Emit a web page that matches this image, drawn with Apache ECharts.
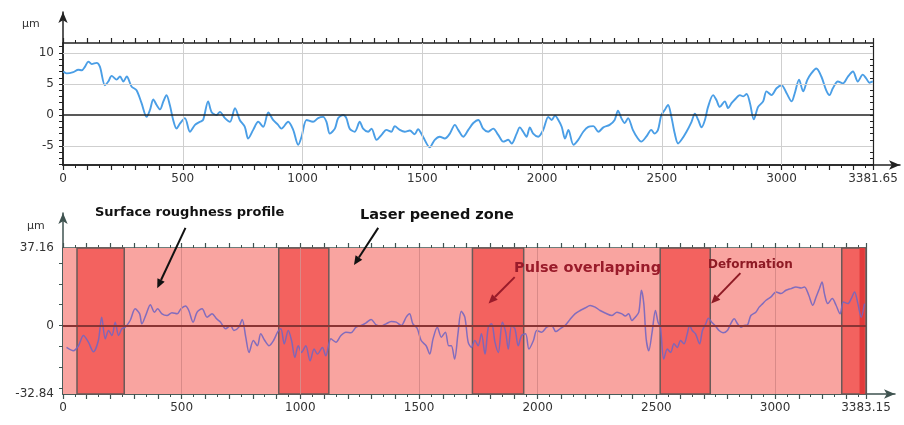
<!DOCTYPE html>
<html><head><meta charset="utf-8">
<script src="https://cdn.jsdelivr.net/npm/echarts@6/dist/echarts.min.js"></script>
<style>html,body{margin:0;padding:0;background:#fff}#c{width:904px;height:425px}</style>
</head><body><div id="c"></div>
<script>
// ---------- data ----------
const topX = [1,15,43,64,78,92,106,120,140,154,175,189,203,224,238,252,266,286,307,328,349,363,377,391,405,419,432,446,460,474,488,509,530,551,572,585,606,620,641,655,676,697,718,738,759,773,794,815,836,857,877,898,912,940,961,982,996,1017,1044,1065,1086,1100,1114,1135,1149,1170,1183,1197,1218,1239,1253,1274,1288,1309,1330,1350,1371,1385,1406,1427,1448,1468,1482,1503,1531,1552,1573,1594,1615,1636,1650,1671,1692,1713,1734,1754,1775,1796,1817,1838,1859,1873,1894,1907,1921,1935,1949,1963,1984,2005,2026,2040,2054,2068,2082,2096,2110,2131,2151,2172,2193,2214,2235,2256,2282,2303,2317,2331,2345,2359,2379,2400,2414,2435,2456,2470,2484,2498,2512,2526,2540,2554,2568,2582,2603,2624,2638,2652,2666,2680,2693,2714,2728,2742,2763,2777,2791,2805,2826,2840,2854,2868,2884,2902,2923,2937,2958,2979,3000,3021,3042,3055,3073,3090,3107,3124,3145,3166,3186,3200,3214,3235,3256,3277,3298,3318,3339,3353,3367,3381];
const topY = [7.0,6.7,6.9,7.3,7.2,7.8,8.6,8.2,8.4,7.8,4.8,5.4,6.3,5.7,6.2,5.4,6.2,4.6,4.0,1.9,-0.3,0.8,2.5,1.6,0.9,2.2,3.2,1.6,-0.8,-2.2,-1.4,-0.5,-2.7,-1.6,-1.1,-0.8,2.2,0.5,0,0.5,-0.5,-1.1,1.1,-0.8,-1.9,-3.8,-2.4,-1.1,-1.9,0.4,-0.8,-1.6,-2.2,-1.1,-2.4,-4.8,-3.5,-0.8,-1.1,-0.5,-0.3,-1.1,-3.0,-2.2,-0.5,0,-0.5,-2.2,-2.7,-1.1,-2.2,-2.7,-2.2,-4.0,-3.2,-2.4,-2.7,-1.8,-2.4,-2.7,-2.5,-3.1,-2.3,-3.5,-5.2,-4.0,-3.5,-3.8,-3.0,-1.6,-2.4,-3.5,-2.4,-1.3,-0.8,-2.2,-2.7,-2.2,-3.2,-4.3,-4.0,-4.6,-3.0,-2.0,-2.7,-3.5,-2.0,-3.0,-3.5,-2.4,-0.3,-0.8,-0.1,-0.8,-1.9,-3.8,-2.4,-4.8,-4.0,-2.7,-1.9,-1.8,-2.7,-2.0,-1.6,-0.8,0.7,-0.5,-1.3,-0.5,-2.4,-3.8,-4.3,-3.5,-2.4,-3.0,-2.4,0,0.8,1.6,-0.3,-3.0,-4.6,-4.0,-2.7,-1.1,0.2,-0.8,-2.0,-0.8,1.3,3.2,2.4,1.3,2.2,1.1,1.9,2.5,3.2,3.0,3.4,1.9,-0.7,1.3,2.2,3.8,3.2,4.3,4.8,3.5,2.2,3.5,5.7,3.8,5.6,6.7,7.5,6.2,4.0,3.2,4.3,5.4,5.1,6.2,7.0,5.4,6.5,5.9,5.2,5.4];

const botX = [15,44,65,86,107,128,149,163,178,192,206,220,234,248,262,283,304,323,332,351,368,385,399,417,438,459,481,497,516,530,548,565,586,607,628,647,664,685,706,720,741,755,770,784,802,819,833,850,868,887,904,918,932,949,963,977,991,1005,1023,1041,1058,1072,1093,1107,1129,1150,1171,1192,1213,1235,1256,1277,1298,1319,1340,1361,1383,1404,1425,1446,1460,1474,1492,1509,1530,1545,1559,1577,1594,1611,1625,1636,1650,1664,1678,1693,1707,1721,1735,1749,1763,1778,1792,1806,1820,1834,1851,1865,1876,1890,1904,1918,1932,1949,1963,1982,1996,2017,2038,2059,2076,2094,2115,2136,2157,2179,2200,2221,2242,2263,2284,2313,2334,2355,2369,2383,2397,2411,2426,2437,2447,2457,2468,2482,2496,2507,2517,2531,2546,2560,2574,2588,2602,2616,2630,2640,2651,2665,2682,2694,2708,2719,2733,2747,2764,2781,2799,2813,2828,2842,2856,2870,2884,2898,2919,2933,2948,2962,2983,3004,3025,3046,3067,3088,3110,3124,3142,3159,3173,3187,3198,3208,3222,3241,3257,3274,3288,3307,3321,3335,3349,3363,3377];
const botY = [-10.5,-12.1,-9.7,-4.8,-8.0,-12.6,-7.2,4.0,-6.4,-2.4,-4.8,1.6,-4.8,-1.6,-0.8,2.4,8.0,5.6,0.8,5.6,10.0,6.4,8.0,5.6,4.8,6.1,5.6,8.0,9.3,7.2,1.6,6.4,8.0,4.0,5.6,3.2,1.6,-1.6,0,-2.4,-0.8,2.9,-5.6,-12.9,-7.2,-9.7,-4.0,-7.2,-9.7,-7.2,-3.2,-1.6,-8.8,-2.4,-7.2,-15.3,-9.7,-12.9,-9.7,-16.9,-11.3,-13.7,-10.5,-14.5,-6.4,-8.0,-4.8,-3.2,-3.5,-0.8,0,1.3,2.9,0.3,-0.3,0.8,1.9,1.6,0,4.0,5.6,0.8,-1.3,-7.2,-9.7,-13.7,-6.4,-0.8,-5.6,-3.2,-9.7,-9.7,-16.1,-4.0,6.8,4.0,-8.0,-10.5,-7.2,-9.7,-4.0,-13.7,-0.8,0.8,-8.0,-12.9,1.6,-3.2,-11.3,0,-1.6,-9.7,-4.8,-4.0,-11.3,-7.2,-2.4,-3.2,-0.8,0,-2.9,-1.6,0,2.9,5.6,7.2,8.4,9.6,8.8,7.2,6.0,4.8,6.4,5.6,4.5,5.6,2.4,4.0,6.4,16.9,10.5,-6.4,-12.1,-3.2,7.2,1.6,-0.8,-16.1,-11.3,-12.9,-8.8,-10.5,-7.2,-8.8,-4.0,0,-2.4,-4.0,-8.8,-2.4,0.8,3.5,1.6,0,-2.4,-3.5,-2.4,0.8,3.2,0.8,-0.8,0,0.3,4.8,6.4,8.8,10.5,12.1,13.7,16.1,15.3,16.9,17.7,18.5,18.0,18.5,14.5,9.7,13.7,17.7,20.9,15.3,10.5,12.9,9.7,5.6,11.3,10.5,12.9,16.1,10.5,4.0,10.5];

const topXMax = 3381.65, botXMax = 3383.15;
const topYMin = -8.06, topYMax = 11.6;
const botYMin = -32.84, botYMax = 37.16;
const topXLabels = [0,500,1000,1500,2000,2500,3000,3381.65];
const botXLabels = [0,500,1000,1500,2000,2500,3000,3383.15];
const topYLabels = [-5,0,5,10];
const topYTicks = [-8,-7,-6,-5,-4,-3,-2,-1,0,1,2,3,4,5,6,7,8,9,10,11];
const botYLabels = [-32.84,0,37.16];
const botYTicks = [-30,-20,-10,0,10,20,30];
const topHGrid = [-5,5,10];
const vGrid = [500,1000,1500,2000,2500,3000];
const botVGrid = [500,1000,1500,2000,3000];
const zoneStarts = [59,909,1725,2516,3281];
const zoneEnds = [258,1120,1941,2727,3383.15];
const stripeZone = [3356,3378];
const annotations = [
  {text:'Surface roughness profile', from:[516,46.8], to:[397,17.9], color:'#111', size:13, tx:95, ty:213},
  {text:'Laser peened zone', from:[1328,46.8], to:[1226,29], color:'#111', size:14.5, tx:360, ty:215},
  {text:'Pulse overlapping', from:[1903,23.2], to:[1793,10.6], color:'#9a1b2a', size:14.5, tx:514, ty:268},
  {text:'Deformation', from:[2854,25.1], to:[2731,10.6], color:'#8e1a24', size:12, tx:708, ty:265}
];

// ---------- chart ----------
const FONT = 'DejaVu Sans';
const chart = echarts.init(document.getElementById('c'), null, {renderer:'canvas'});
const plainFmt = v => String(v);

function xAxisMain(grid, max, color, labels) {
  return {gridIndex:grid, type:'value', position:'bottom', min:0, max:max, interval:100,
    axisLine:{show:true,onZero:false,lineStyle:{color:color,width:1.5}},
    axisTick:{show:true,length:5,lineStyle:{color:color,width:1.2}},
    minorTick:{show:true,splitNumber:2,length:3,lineStyle:{color:color}},
    axisLabel:{show:true,customValues:labels,formatter:plainFmt,color:'#333',fontSize:12,fontFamily:FONT,margin:8,showMaxLabel:true,showMinLabel:true},
    splitLine:{show:false}, minorSplitLine:{show:false}};
}
function xAxisTop(grid, max, color) {
  return {gridIndex:grid, type:'value', position:'top', min:0, max:max, interval:100,
    axisLine:{show:true,onZero:false,lineStyle:{color:color,width:1.5}},
    axisTick:{show:true,length:5,lineStyle:{color:color,width:1.2}},
    minorTick:{show:true,splitNumber:2,length:3,lineStyle:{color:color}},
    axisLabel:{show:false}, splitLine:{show:false}};
}
function yAxisMain(grid, min, max, color, labels, ticks) {
  return {gridIndex:grid, type:'value', position:'left', min:min, max:max,
    axisLine:{show:true,onZero:false,lineStyle:{color:color,width:1.5}},
    axisTick:{show:true,customValues:ticks,length:4,lineStyle:{color:color}},
    axisLabel:{show:true,customValues:labels,formatter:plainFmt,color:'#333',fontSize:12,fontFamily:FONT,margin:9},
    splitLine:{show:false}};
}
function yAxisRight(grid, min, max, color, ticks) {
  return {gridIndex:grid, type:'value', position:'right', min:min, max:max,
    axisLine:{show:true,onZero:false,lineStyle:{color:color,width:1.2}},
    axisTick:{show:true,inside:true,customValues:ticks,length:3,lineStyle:{color:color}},
    axisLabel:{show:false}, splitLine:{show:false}};
}
function arrowAxis(grid, isX, color) {
  const a = {gridIndex:grid, type:'value', min:0, max:1,
    axisLine:{show:true,onZero:false,symbol:['none','arrow'],symbolSize:[7,11],lineStyle:{color:color,width:1.5}},
    axisTick:{show:false}, axisLabel:{show:false}, splitLine:{show:false}};
  a.position = isX ? 'bottom' : 'left';
  return a;
}

const topColor = '#222';
const botColor = '#3f5350';

const option = {
  backgroundColor:'#fff',
  animation:false,
  grid:[
    {left:63, top:43, width:810, height:122, outerBoundsMode:'none'},
    {left:63, top:12, right:4, bottom:260, outerBoundsMode:'none'},
    {left:63, top:248, width:803, height:146, outerBoundsMode:'none'},
    {left:63, top:213, right:9, bottom:31, outerBoundsMode:'none'}
  ],
  xAxis:[
    xAxisMain(0, topXMax, topColor, topXLabels),
    xAxisTop(0, topXMax, topColor),
    arrowAxis(1, true, topColor),
    xAxisMain(2, botXMax, botColor, botXLabels),
    xAxisTop(2, botXMax, botColor),
    arrowAxis(3, true, botColor)
  ],
  yAxis:[
    yAxisMain(0, topYMin, topYMax, topColor, topYLabels, topYTicks),
    yAxisRight(0, topYMin, topYMax, topColor, topYTicks),
    arrowAxis(1, false, topColor),
    yAxisMain(2, botYMin, botYMax, botColor, botYLabels, botYTicks),
    yAxisRight(2, botYMin, botYMax, botColor, botYTicks),
    arrowAxis(3, false, botColor)
  ],
  series:[
    {type:'line', xAxisIndex:0, yAxisIndex:0, data:[], silent:true,
     markLine:{silent:true, symbol:'none', label:{show:false}, animation:false,
       data: topHGrid.map(v=>({yAxis:v, lineStyle:{color:'#cfcfcf',width:1,type:'solid'}}))
         .concat(vGrid.map(v=>({xAxis:v, lineStyle:{color:'#cfcfcf',width:1,type:'solid'}})))
         .concat([{yAxis:0, lineStyle:{color:'#222',width:1.5,type:'solid'}}])}},
    {type:'line', xAxisIndex:0, yAxisIndex:0, showSymbol:false, smooth:0.3,
     lineStyle:{color:'#4a9ee6',width:1.9}, itemStyle:{color:'#4a9ee6'},
     data: topX.map((x,i)=>[x, topY[i]])},
    {type:'line', xAxisIndex:3, yAxisIndex:3, data:[], silent:true,
     markArea:{silent:true, data:[
       [{xAxis:0, yAxis:botYMin, itemStyle:{color:'#f9a4a0'}}, {xAxis:botXMax, yAxis:botYMax}]
     ].concat(zoneStarts.map((s,i)=>[
       {xAxis:s, yAxis:botYMin, itemStyle:{color:'#f3625f', borderColor:'#6a5a58', borderWidth:1.5}},
       {xAxis:zoneEnds[i], yAxis:botYMax}
     ])).concat([[
       {xAxis:stripeZone[0], yAxis:botYMin, itemStyle:{color:'#e23a3a'}},
       {xAxis:stripeZone[1], yAxis:botYMax}
     ]])}},
    {type:'line', xAxisIndex:3, yAxisIndex:3, data:[], silent:true,
     markLine:{silent:true, symbol:'none', label:{show:false},
       data: botVGrid.map(v=>({xAxis:v, lineStyle:{color:'#d98a88',width:1,type:'solid'}}))
         .concat([{yAxis:0, lineStyle:{color:'#8a3434',width:2,type:'solid'}}])}},
    {type:'line', xAxisIndex:3, yAxisIndex:3, showSymbol:false, smooth:0.3,
     lineStyle:{color:'#7466c0',width:1.5,opacity:0.9}, itemStyle:{color:'#7466c0'},
     data: botX.map((x,i)=>[x, botY[i]])}
  ]
};
chart.setOption(option);

// ---------- annotations ----------
function arrowGraphic(p1, p2, color) {
  const dx = p2[0]-p1[0], dy = p2[1]-p1[1];
  const len = Math.sqrt(dx*dx+dy*dy), ux = dx/len, uy = dy/len;
  const hl = 9, hw = 4;
  const bx = p2[0]-ux*hl, by = p2[1]-uy*hl;
  return [
    {type:'line', shape:{x1:p1[0],y1:p1[1],x2:bx,y2:by}, style:{stroke:color,lineWidth:2}, z:100},
    {type:'polygon', shape:{points:[[p2[0],p2[1]],[bx-uy*hw,by+ux*hw],[bx+uy*hw,by-ux*hw]]}, style:{fill:color}, z:100}
  ];
}
const graphics = [
  {type:'text', left:22, top:19, style:{text:'μm', fill:'#333', font:'11px "DejaVu Sans"'}, z:100},
  {type:'text', left:27, top:221, style:{text:'μm', fill:'#333', font:'11px "DejaVu Sans"'}, z:100}
];
annotations.forEach(a=>{
  const p1 = chart.convertToPixel({seriesIndex:4}, a.from);
  const p2 = chart.convertToPixel({seriesIndex:4}, a.to);
  arrowGraphic(p1, p2, a.color).forEach(g=>graphics.push(g));
  graphics.push({type:'text', x:a.tx, y:a.ty, style:{text:a.text, fill:a.color, font:'bold '+a.size+'px "DejaVu Sans"', textVerticalAlign:'middle', textAlign:'left'}, z:101});
});
chart.setOption({graphic:graphics});
</script>
</body></html>
